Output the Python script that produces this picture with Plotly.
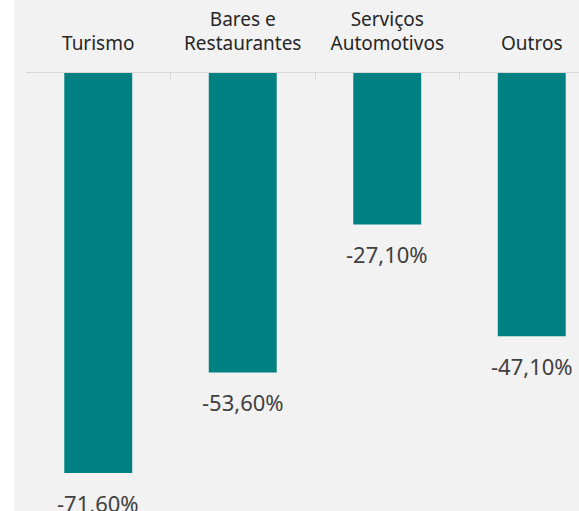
import plotly.graph_objects as go

categorias = ["Turismo", "Bares e<br>Restaurantes", "Serviços<br>Automotivos", "Outros"]
variacao = [-71.6, -53.6, -27.1, -47.1]
rotulos = ["-71,60%", "-53,60%", "-27,10%", "-47,10%"]

fig = go.Figure()
fig.add_trace(go.Bar(
    x=categorias, y=variacao,
    marker=dict(color="#008080", line=dict(width=0)),
    width=0.47, showlegend=False, hoverinfo="skip",
))

for c, v, t in zip(categorias, variacao, rotulos):
    fig.add_annotation(x=c, y=v, text=t, showarrow=False, yanchor="top", yshift=-13,
                       font=dict(family="Noto Sans", size=22, color="#404040"))

# faixa branca à esquerda
fig.add_shape(type="rect", xref="paper", yref="paper", x0=-0.1, x1=-0.0217, y0=-0.2, y1=1.3,
              fillcolor="white", line=dict(width=0), layer="below")

fig.update_layout(
    width=579, height=511,
    margin=dict(l=26, r=0, t=73, b=0),
    paper_bgcolor="#f2f2f2", plot_bgcolor="#f2f2f2",
    font=dict(family="Noto Sans", size=19, color="#262626"),
)
fig.update_xaxes(side="top", range=[-0.5, 3.327], showline=True, linecolor="#d9d9d9", linewidth=1,
                 ticks="inside", tickson="boundaries", ticklen=7, tickcolor="#d9d9d9",
                 ticklabelstandoff=14, showgrid=False, tickfont=dict(size=19, color="#262626"))
fig.update_yaxes(range=[-78.4, 0], visible=False, showgrid=False, zeroline=False)

fig.write_html("out.html", config={"displayModeBar": False},
               post_script="document.body.style.margin='0px';")
